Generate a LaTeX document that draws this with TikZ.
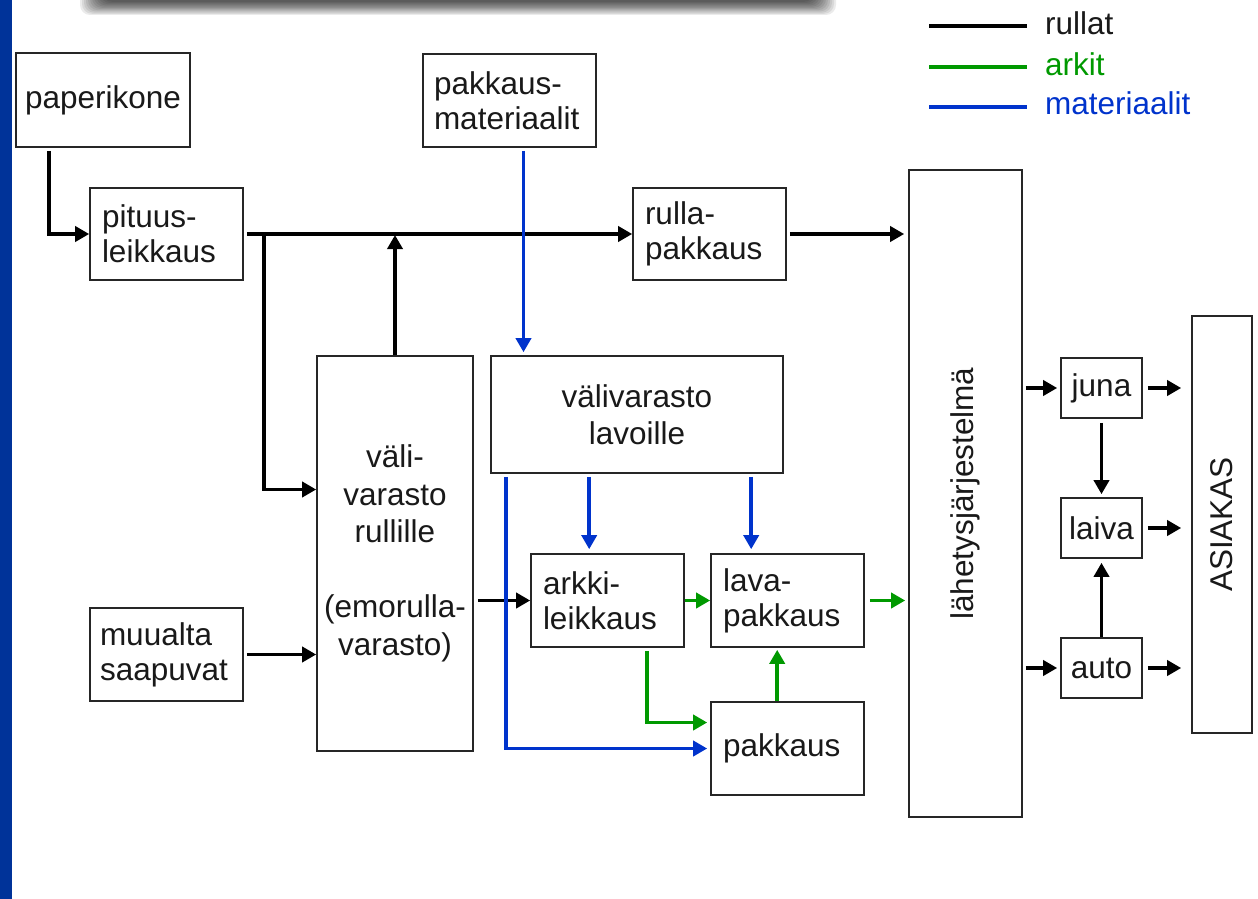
\documentclass[tikz,border=0pt]{standalone}
\usepackage{fontspec}
\setmainfont{Liberation Sans}
\usetikzlibrary{arrows.meta}
\definecolor{stripclr}{RGB}{0,51,153}
\definecolor{arkkiclr}{RGB}{0,153,0}
\definecolor{matclr}{RGB}{0,51,204}
\newcommand{\boxfont}{\fontsize{31.5}{35}\selectfont}
\hyphenpenalty=10000
\tikzset{
	box/.style={draw=black!85, line width=1.6pt, inner xsep=12pt, inner ysep=0pt, align=left, text=black!90, font=\boxfont},
	cbox/.style={box, align=center, inner xsep=0pt},
	rullat/.style={line width=3.5pt, black, -{Triangle[length=14pt,width=15pt]}},
	arkit/.style={rullat, arkkiclr},
	materiaalit/.style={rullat, matclr},
}
\begin{document}
\begin{tikzpicture}[x=1pt,y=-1pt]
			\useasboundingbox (0,0) rectangle (1258,899);
			\fill[white] (0,0) rectangle (1258,899);
			\fill[stripclr] (0,0) rectangle (12,899);
			
			% varjo ylhaalla
			\begin{scope}
				\clip (0,0) rectangle (1258,899);
				\foreach \i in {0,...,11}
				{
					\fill[black, opacity=0.08, rounded corners=10pt] (80+\i*2,-30) rectangle (836-\i*2,15-\i*1.2);
				}
			\end{scope}
			
			\node[box, inner xsep=9pt, text width=156pt, minimum height=94pt] (paperikone) at (103,100) {paperikone};
			\node[box, text width=129pt, minimum height=92pt] (pituus) at (166.5,234) {pituus-\\leikkaus};
			\node[box, inner xsep=11pt, text width=151pt, minimum height=93pt] (pakmat) at (509.5,100.5) {pakkaus-\\materiaalit};
			\node[box, text width=129pt, minimum height=92pt] (rulla) at (709.5,234) {rulla-\\pakkaus};
			\node[box, minimum width=113pt, minimum height=647pt] (lahetys) at (965.5,493.5) {};
			\node[rotate=90, text=black!90, font=\boxfont] (lahetysteksti) at (lahetys) {lähetysjärjestelmä};
			\node[cbox, text width=156pt, minimum height=395pt, font=\fontsize{31.5}{37.5}\selectfont] (rullille) at (395,553.5) {väli-\\varasto\\rullille\\[37.5pt](emorulla-\\varasto)};
			\node[cbox, text width=292pt, minimum height=117pt, font=\fontsize{31.5}{37}\selectfont] (lavoille) at (637,414.5) {välivarasto\\lavoille};
			\node[box, text width=129pt, minimum height=93pt] (arkki) at (607.5,600.5) {arkki-\\leikkaus};
			\node[box, text width=129pt, minimum height=93pt] (lava) at (787.5,600.5) {lava-\\pakkaus};
			\node[box, text width=129pt, minimum height=93pt] (pakkaus) at (787.5,748.5) {pakkaus};
			\node[box, inner xsep=10pt, text width=133pt, minimum height=93pt] (muualta) at (166.5,654.5) {muualta\\saapuvat};
			\node[cbox, text width=81pt, minimum height=60pt] (juna) at (1101.5,388) {juna};
			\node[cbox, text width=81pt, minimum height=60pt] (laiva) at (1101.5,528) {laiva};
			\node[cbox, text width=81pt, minimum height=60pt] (auto) at (1101.5,668) {auto};
			\node[box, minimum width=60pt, minimum height=417pt] (asiakas) at (1222,524.5) {};
			\node[rotate=90, text=black!90, font=\boxfont] (asiakasteksti) at (asiakas) {ASIAKAS};
			
			% rullat
			\draw[rullat, shorten <=3pt] ([xshift=34pt]paperikone.south west) |- (pituus.west);
			\draw[rullat, shorten <=3pt] (pituus.east) -- (rulla.west);
			\draw[rullat] ([xshift=20pt]pituus.east) |- ([yshift=64pt]rullille.west);
			\draw[rullat, shorten >=1pt] (rullille.north) -- (rullille.north |- pituus.east);
			\draw[rullat, shorten <=3pt, shorten >=4pt] (rulla.east) -- (rulla.east -| lahetys.west);
			\draw[rullat, shorten <=4pt] (rullille.east |- arkki.west) -- (arkki.west);
			\draw[rullat, shorten <=3pt] (muualta.east) -- (muualta.east -| rullille.west);
			
			% materiaalit
			\draw[materiaalit, shorten <=3pt, shorten >=3pt] ([xshift=14pt]pakmat.south) -- ([xshift=14pt]pakmat.south |- lavoille.north);
			\draw[materiaalit, shorten <=3pt, shorten >=3pt] ([xshift=16pt]lavoille.south west) |- (pakkaus.west);
			\draw[materiaalit, shorten <=3pt, shorten >=4pt] ([xshift=99pt]lavoille.south west) coordinate (m1) -- (m1 |- arkki.north);
			\draw[materiaalit, shorten <=3pt, shorten >=4pt] ([xshift=261pt]lavoille.south west) coordinate (m2) -- (m2 |- lava.north);
			
			% arkit
			\draw[arkit] (arkki.east) -- (lava.west);
			\draw[arkit, shorten <=3pt, shorten >=3pt] ([xshift=117pt]arkki.south west) |- ([yshift=26pt]pakkaus.west);
			\draw[arkit, shorten >=2pt] ([xshift=67pt]pakkaus.north west) coordinate (a1) -- (a1 |- lava.south);
			\draw[arkit, shorten <=5pt, shorten >=3pt] (lava.east) -- (lava.east -| lahetys.west);
			
			% kuljetus
			\foreach \k in {juna, auto}
			{
				\draw[rullat, shorten <=3pt, shorten >=3pt] (\k.west -| lahetys.east) -- (\k.west);
			}
			\foreach \k in {juna, laiva, auto}
			{
				\draw[rullat, shorten <=5pt, shorten >=10pt] (\k.east) -- (\k.east -| asiakas.west);
			}
			\draw[rullat, shorten <=4pt, shorten >=3pt] (juna.south) -- (laiva.north);
			\draw[rullat, shorten >=4pt] (auto.north) -- (laiva.south);
			
			% selite
			\draw[line width=3.5pt, black] (929,26) -- (1027,26);
			\draw[line width=3.5pt, arkkiclr] (929,67) -- (1027,67);
			\draw[line width=3.5pt, matclr] (929,107) -- (1027,107);
			\node[anchor=base west, inner sep=0pt, font=\boxfont, text=black!90] (selite1) at (1045,35) {rullat};
			\node[anchor=base west, inner sep=0pt, font=\boxfont, text=arkkiclr] (selite2) at (1045,75) {arkit};
			\node[anchor=base west, inner sep=0pt, font=\boxfont, text=matclr] (selite3) at (1045,114) {materiaalit};
			
		\end{tikzpicture}
\end{document}
